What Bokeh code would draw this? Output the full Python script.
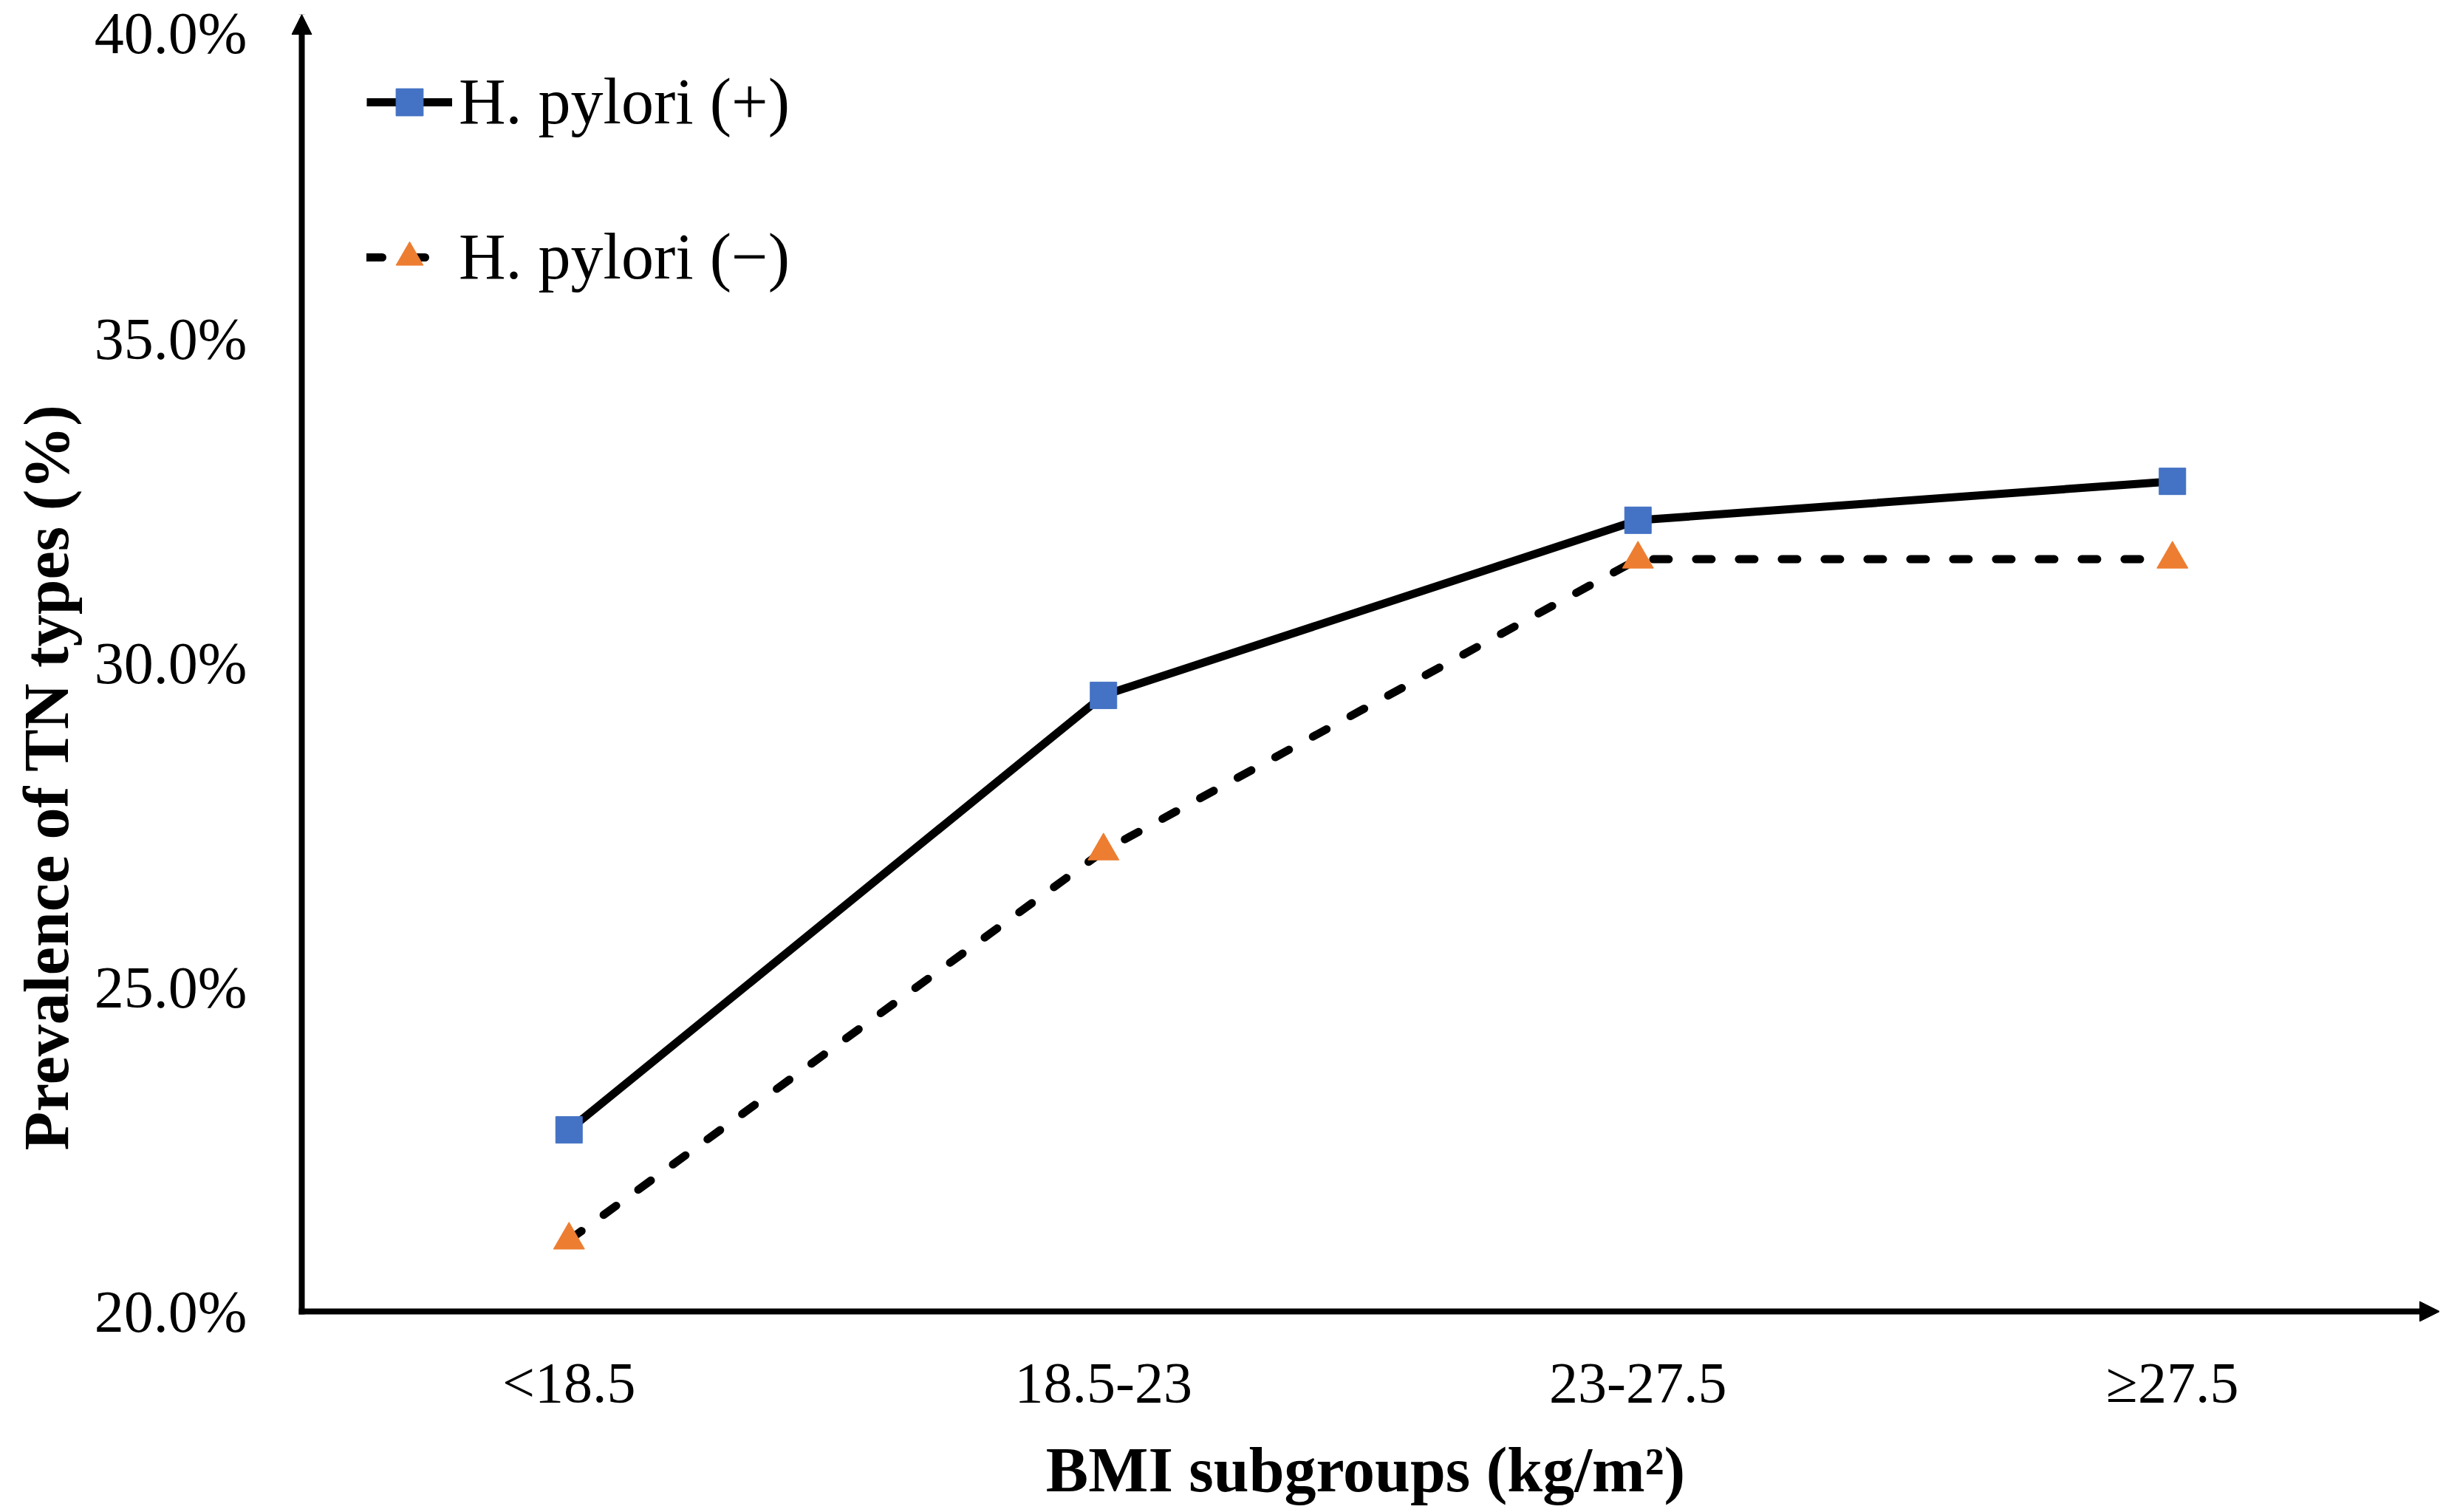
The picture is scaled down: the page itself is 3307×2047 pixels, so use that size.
from bokeh.plotting import figure
from bokeh.models import (Range1d, FixedTicker, Legend, LegendItem, Title,
                          Arrow, NormalHead)
from bokeh.embed import file_html
from bokeh.resources import INLINE

# ---- data ----
categories = ["<18.5", "18.5-23", "23-27.5", "\u226527.5"]
hp_pos = [22.8, 29.5, 32.2, 32.8]   # H. pylori (+)
hp_neg = [21.1, 27.1, 31.6, 31.6]   # H. pylori (-)
y_ticks = [20, 25, 30, 35, 40]
y_tick_labels = ["20.0%", "25.0%", "30.0%", "35.0%", "40.0%"]
series_labels = ["H. pylori (+)", "H. pylori (\u2212)"]
x_title = "BMI subgroups (kg/m\u00b2)"
y_title = "Prevalence of TN types (%)"

# ---- styling / layout ----
FONT = "Liberation Serif"
BLUE = "#4472C4"
ORANGE = "#ED7D31"
n = len(categories)
Y_MIN, Y_MAX = y_ticks[0], y_ticks[-1]
x_pos = [i + 0.5 for i in range(n)]          # category centres on the axis scale

FRAME_W, FRAME_H = 2908, 1770
PX_X = 723.5                                  # pixels per category slot
PX_Y = 87.8                                   # pixels per percentage point
PAD = 14                                      # room for arrow heads (px)
pad_x = PAD / PX_X
pad_y = PAD / PX_Y
AXIS_W = 8

p = figure(x_range=Range1d(-pad_x, n), y_range=Range1d(Y_MIN - pad_y, Y_MAX),
           frame_width=FRAME_W, frame_height=FRAME_H,
           min_border_left=383, min_border_right=0,
           min_border_top=19, min_border_bottom=242,
           output_backend="svg", toolbar_location=None,
           background_fill_color="white", border_fill_color="white")

p.xgrid.visible = False
p.ygrid.visible = False
p.outline_line_color = None

for ax in (p.xaxis[0], p.yaxis[0]):
    ax.axis_line_color = None
    ax.major_tick_line_color = None
    ax.minor_tick_line_color = None
    ax.major_label_text_font = FONT
    ax.major_label_text_color = "black"

xa = p.xaxis[0]
xa.ticker = FixedTicker(ticks=x_pos)
xa.major_label_overrides = {x: c for x, c in zip(x_pos, categories)}
xa.major_label_text_font_size = "78px"
xa.major_label_standoff = 32
xa.axis_label = x_title
xa.axis_label_text_font = FONT
xa.axis_label_text_font_style = "bold"
xa.axis_label_text_font_size = "86px"
xa.axis_label_text_color = "black"
xa.axis_label_standoff = 24

ya = p.yaxis[0]
ya.ticker = FixedTicker(ticks=y_ticks)
ya.major_label_overrides = {t: s for t, s in zip(y_ticks, y_tick_labels)}
ya.major_label_text_font_size = "80px"
ya.major_label_standoff = 54

# y title: placed on the left, shifted down like the reference
p.add_layout(Title(text=y_title, align="left", offset=232, vertical_align="middle",
                   standoff=26, text_font=FONT, text_font_style="bold",
                   text_font_size="86px", text_color="black"), "left")

# axis lines with arrow heads
p.add_layout(Arrow(end=NormalHead(size=27, fill_color="black", line_color="black", line_width=1),
                   x_start=0, y_start=Y_MIN - (AXIS_W / 2) / PX_Y, x_end=0, y_end=Y_MAX,
                   line_color="black", line_width=AXIS_W))
p.add_layout(Arrow(end=NormalHead(size=27, fill_color="black", line_color="black", line_width=1),
                   x_start=-(AXIS_W / 2) / PX_X, y_start=Y_MIN, x_end=n, y_end=Y_MIN,
                   line_color="black", line_width=AXIS_W))

# series
l1 = p.line(x_pos, hp_pos, line_color="black", line_width=11, line_join="round")
l2 = p.line(x_pos, hp_neg, line_color="black", line_width=11,
            line_dash="21 37", line_cap="round", line_join="round")
s1 = p.scatter(x_pos, hp_pos, marker="square", size=36,
               fill_color=BLUE, line_color=BLUE, line_width=1)
s2 = p.scatter(x_pos, hp_neg, marker="triangle", size=42,
               fill_color=ORANGE, line_color=ORANGE, line_width=1)

legend = Legend(items=[LegendItem(label=series_labels[0], renderers=[l1, s1]),
                       LegendItem(label=series_labels[1], renderers=[l2, s2])],
                location=(102, 1391), orientation="vertical",
                padding=0, margin=0, spacing=109,
                glyph_width=116, glyph_height=92, label_height=100,
                label_standoff=9,
                label_text_font=FONT, label_text_font_size="88px",
                label_text_color="black",
                border_line_color=None, background_fill_alpha=0)
p.add_layout(legend, "center")

open("out.html", "w").write(file_html(p, INLINE))
